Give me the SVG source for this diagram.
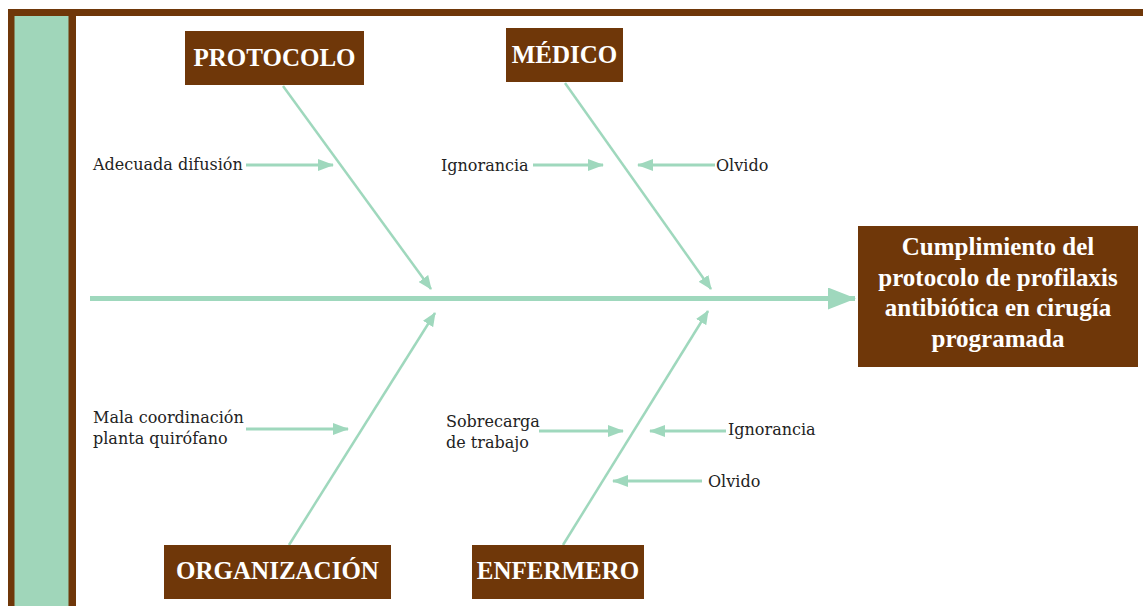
<svg xmlns="http://www.w3.org/2000/svg" width="1143" height="606" viewBox="0 0 1143 606">
<style>
.box{fill:#6F3709;}
.hdr{font-family:"Liberation Serif","DejaVu Serif",serif;font-weight:bold;font-size:25px;fill:#ffffff;text-anchor:middle;}
.res{font-family:"Liberation Serif","DejaVu Serif",serif;font-weight:bold;font-size:25px;fill:#ffffff;text-anchor:middle;}
.lbl{font-family:"DejaVu Serif","Liberation Serif",serif;font-size:16px;fill:#222222;}
.bone{stroke:#9FD8BD;stroke-width:2.5;fill:none;}
.small{stroke:#9FD8BD;stroke-width:3;fill:none;}
.spine{stroke:#9FD8BD;stroke-width:5;fill:none;}
</style>
<defs>
<marker id="ah" markerUnits="userSpaceOnUse" markerWidth="16" markerHeight="12" refX="15" refY="6" orient="auto">
<path d="M0,0 L16,6 L0,12 Z" fill="#9FD8BD"/>
</marker>
<marker id="ahb" markerUnits="userSpaceOnUse" markerWidth="14" markerHeight="12" refX="13" refY="6" orient="auto">
<path d="M0,0 L14,6 L0,12 Z" fill="#9FD8BD"/>
</marker>
<marker id="ahs" markerUnits="userSpaceOnUse" markerWidth="28" markerHeight="22" refX="27" refY="11" orient="auto">
<path d="M0,0 L28,11 L0,22 Z" fill="#9FD8BD"/>
</marker>
</defs>
<g id="frame">
<rect x="8" y="9" width="1135" height="7" fill="#6F3709"/>
<rect x="8" y="9" width="68" height="597" fill="#6F3709"/>
<rect x="14.5" y="16" width="54" height="590" fill="#A0D6BA"/>
</g>
<g id="connectors">
<line class="spine" x1="90" y1="298.5" x2="855" y2="298.5" marker-end="url(#ahs)"/>
<line class="bone" x1="283" y1="86" x2="431" y2="289" marker-end="url(#ahb)"/>
<line class="bone" x1="565" y1="83" x2="711" y2="289" marker-end="url(#ahb)"/>
<line class="bone" x1="289" y1="545" x2="435" y2="313" marker-end="url(#ahb)"/>
<line class="bone" x1="563" y1="545" x2="708" y2="311" marker-end="url(#ahb)"/>
<line class="small" x1="246" y1="165" x2="333" y2="165" marker-end="url(#ah)"/>
<line class="small" x1="533" y1="165" x2="603" y2="165" marker-end="url(#ah)"/>
<line class="small" x1="715" y1="165" x2="638" y2="165" marker-end="url(#ah)"/>
<line class="small" x1="246" y1="429" x2="348" y2="429" marker-end="url(#ah)"/>
<line class="small" x1="539" y1="431" x2="623" y2="431" marker-end="url(#ah)"/>
<line class="small" x1="726" y1="431" x2="650" y2="431" marker-end="url(#ah)"/>
<line class="small" x1="702" y1="481" x2="613" y2="481" marker-end="url(#ah)"/>
</g>
<g id="protocolo">
<rect class="box" x="185" y="31" width="179" height="54"/>
<text class="hdr" x="274.5" y="66">PROTOCOLO</text>
</g>
<g id="medico">
<rect class="box" x="506" y="28" width="117" height="54"/>
<text class="hdr" x="564.5" y="63">MÉDICO</text>
</g>
<g id="organizacion">
<rect class="box" x="164" y="545" width="227" height="54"/>
<text class="hdr" x="277.5" y="579">ORGANIZACIÓN</text>
</g>
<g id="enfermero">
<rect class="box" x="472" y="545" width="172" height="54"/>
<text class="hdr" x="558" y="579">ENFERMERO</text>
</g>
<g id="resultado">
<rect class="box" x="858" y="226" width="280" height="141"/>
<text class="res" x="998" y="255">Cumplimiento del</text>
<text class="res" x="998" y="285.5">protocolo de profilaxis</text>
<text class="res" x="998" y="316">antibiótica en cirugía</text>
<text class="res" x="998" y="346.5">programada</text>
</g>
<g id="labels">
<text class="lbl" x="93" y="170">Adecuada difusión</text>
<text class="lbl" x="441" y="171">Ignorancia</text>
<text class="lbl" x="716" y="171">Olvido</text>
<text class="lbl" x="93" y="423" font-size="15.5">Mala coordinación</text>
<text class="lbl" x="93" y="444" font-size="15.5">planta quirófano</text>
<text class="lbl" x="446" y="427">Sobrecarga</text>
<text class="lbl" x="446" y="448">de trabajo</text>
<text class="lbl" x="728" y="435">Ignorancia</text>
<text class="lbl" x="708" y="487">Olvido</text>
</g>
</svg>
